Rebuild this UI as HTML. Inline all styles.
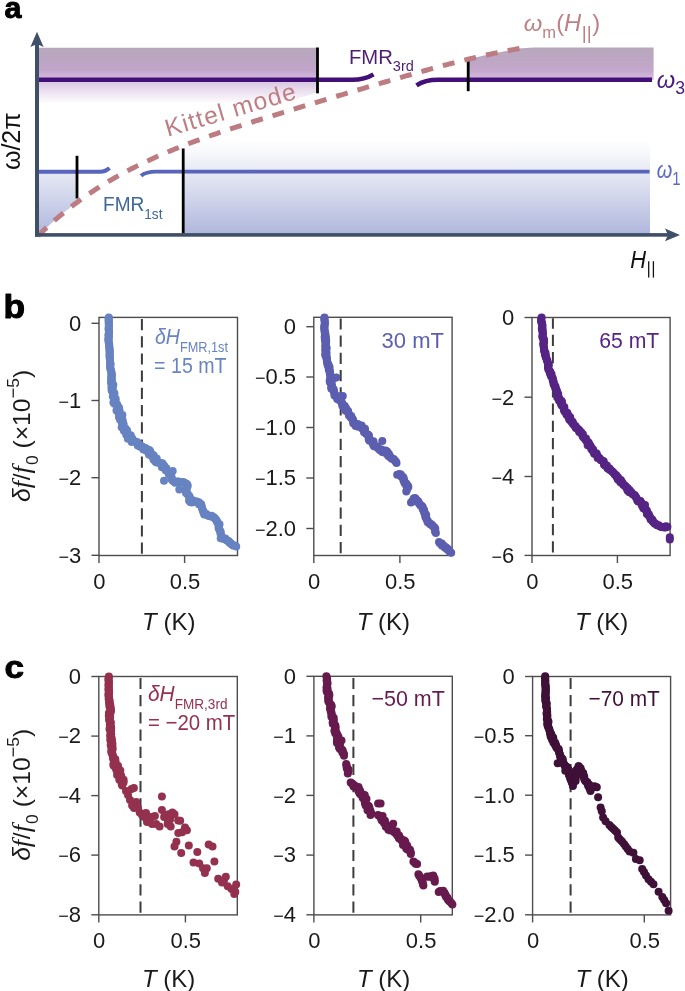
<!DOCTYPE html>
<html><head><meta charset="utf-8"><title>Figure</title>
<style>
html,body{margin:0;padding:0;background:#fff;}
body{width:685px;height:991px;overflow:hidden;}
svg{display:block;will-change:transform;}
text{font-family:"Liberation Sans",sans-serif;}
</style></head><body>
<svg width="685" height="991" viewBox="0 0 685 991">
<defs>
<linearGradient id="gPurL" x1="0" y1="47.3" x2="0" y2="104" gradientUnits="userSpaceOnUse">
 <stop offset="0" stop-color="#b8a8bc"/>
 <stop offset="0.224" stop-color="#bba5c2"/>
 <stop offset="0.40" stop-color="#c3a5cc"/>
 <stop offset="0.506" stop-color="#cdb3d6"/>
 <stop offset="0.63" stop-color="#dccbe4"/>
 <stop offset="0.788" stop-color="#ece2f0"/>
 <stop offset="1" stop-color="#ffffff"/>
</linearGradient>
<linearGradient id="gPurR" x1="0" y1="47.3" x2="0" y2="79" gradientUnits="userSpaceOnUse">
 <stop offset="0" stop-color="#b8a8bc"/>
 <stop offset="0.45" stop-color="#bea6c4"/>
 <stop offset="0.75" stop-color="#c6a8cf"/>
 <stop offset="1" stop-color="#d3bcda"/>
</linearGradient>
<linearGradient id="gBlue" x1="0" y1="140" x2="0" y2="234" gradientUnits="userSpaceOnUse">
 <stop offset="0" stop-color="#ffffff"/>
 <stop offset="0.15" stop-color="#f6f7fb"/>
 <stop offset="0.33" stop-color="#e7e9f4"/>
 <stop offset="0.6" stop-color="#d2d6ec"/>
 <stop offset="1" stop-color="#afb7dc"/>
</linearGradient>
</defs>

<text transform="translate(4.60,17.93) scale(0.9200,0.9150)" font-size="33" font-weight="bold" fill="#000" stroke="#000" stroke-width="1.1" stroke-linejoin="round">a</text>
<path d="M39,47.8 L317.5,47.8 L317.5,92.5 L312.8,93.9 L308.1,95.4 L303.3,96.8 L298.6,98.2 L293.9,99.7 L289.2,101.1 L284.5,102.5 L279.7,104.0 L275.0,104.0 L270.3,104.0 L265.6,104.0 L260.9,104.0 L256.1,104.0 L251.4,104.0 L246.7,104.0 L242.0,104.0 L237.3,104.0 L232.5,104.0 L227.8,104.0 L223.1,104.0 L218.4,104.0 L213.7,104.0 L208.9,104.0 L204.2,104.0 L199.5,104.0 L194.8,104.0 L190.1,104.0 L185.3,104.0 L180.6,104.0 L175.9,104.0 L171.2,104.0 L166.4,104.0 L161.7,104.0 L157.0,104.0 L152.3,104.0 L147.6,104.0 L142.8,104.0 L138.1,104.0 L133.4,104.0 L128.7,104.0 L124.0,104.0 L119.2,104.0 L114.5,104.0 L109.8,104.0 L105.1,104.0 L100.4,104.0 L95.6,104.0 L90.9,104.0 L86.2,104.0 L81.5,104.0 L76.8,104.0 L72.0,104.0 L67.3,104.0 L62.6,104.0 L57.9,104.0 L53.2,104.0 L48.4,104.0 L43.7,104.0 L39.0,104.0 Z" fill="url(#gPurL)"/>
<path d="M468.0,59.3 L468.0,59.3 L470.7,58.6 L473.5,58.0 L476.2,57.3 L478.9,56.7 L481.7,56.1 L484.4,55.4 L487.2,54.8 L489.9,54.2 L492.6,53.7 L495.4,53.1 L498.1,52.5 L500.8,52.0 L503.6,51.4 L506.3,50.9 L509.1,50.4 L511.8,49.9 L514.5,49.4 L517.3,48.9 L520.0,48.4 L521.0,48.3 L523.0,48.2 L525.0,48.0 L527.0,47.9 L529.0,47.8 L531.0,47.7 L533.0,47.6 L535.0,47.6 L537.0,47.6 L653.6,47.6 L653.6,80.0 L468.0,80.0 Z" fill="url(#gPurR)"/>
<path d="M183.0,140.0 L650.0,140.0 L650.0,233.5 L183.0,233.5 Z" fill="url(#gBlue)"/>
<path d="M39.0,171.7 L77.0,171.7 L77.0,202.4 L75.7,203.3 L74.4,204.3 L73.1,205.3 L71.8,206.3 L70.4,207.3 L69.1,208.4 L67.8,209.4 L66.5,210.5 L65.2,211.5 L63.9,212.6 L62.6,213.6 L61.3,214.7 L60.0,215.8 L58.7,216.9 L57.3,218.0 L56.0,219.2 L54.7,220.3 L53.4,221.5 L52.1,222.6 L50.8,223.8 L49.5,225.0 L48.2,226.2 L46.9,227.4 L45.6,228.6 L44.2,229.8 L42.9,231.0 L41.6,232.3 L40.3,233.6 L39.0,234.8 Z" fill="url(#gBlue)"/>
<path d="M39,79.7 L352,79.7 C362,79.7 368,77.7 373.5,74.3" fill="none" stroke="#430f78" stroke-width="4.5"/>
<path d="M416.5,85.3 C422,81.7 428,79.7 438,79.7 L652,79.7" fill="none" stroke="#430f78" stroke-width="4.5"/>
<path d="M39,171.7 L100,171.7 C104,171.7 107,170.5 109.5,168" fill="none" stroke="#5965ba" stroke-width="3.9"/>
<path d="M141,175.8 C145,172.5 149,171.6 156,171.6 L649.6,171.6" fill="none" stroke="#5965ba" stroke-width="3.9"/>
<g stroke="#000" stroke-width="2.8">
<line x1="317.5" y1="47.5" x2="317.5" y2="93.3"/>
<line x1="468.2" y1="61" x2="468.2" y2="91.2"/>
<line x1="77" y1="155.8" x2="77" y2="198.5"/>
<line x1="183.2" y1="148.5" x2="183.2" y2="233.5"/>
</g>
<path d="M38.00,235.80 L39.61,234.23 L41.22,232.68 L42.83,231.14 L44.44,229.62 L46.05,228.11 L47.66,226.63 L49.27,225.16 L50.88,223.71 L52.49,222.27 L54.10,220.85 L55.71,219.45 L57.32,218.07 L58.93,216.70 L60.55,215.34 L62.16,214.00 L63.77,212.68 L65.38,211.37 L66.99,210.08 L68.60,208.80 L70.21,207.54 L71.82,206.29 L73.43,205.05 L75.04,203.83 L76.65,202.63 L78.26,201.44 L79.87,200.26 L81.48,199.09 L83.09,197.94 L84.70,196.80 L86.31,195.68 L87.92,194.57 L89.53,193.47 L91.14,192.38 L92.75,191.31 L94.36,190.25 L95.97,189.20 L97.58,188.16 L99.19,187.13 L100.80,186.12 L102.41,185.11 L104.03,184.12 L105.64,183.14 L107.25,182.17 L108.86,181.21 L110.47,180.26 L112.08,179.32 L113.69,178.40 L115.30,177.48 L116.91,176.57 L118.52,175.67 L120.13,174.78 L121.74,173.90 L123.35,173.03 L124.96,172.17 L126.57,171.32 L128.18,170.47 L129.79,169.64 L131.40,168.81 L133.01,167.99 L134.62,167.18 L136.23,166.38 L137.84,165.58 L139.45,164.79 L141.06,164.01 L142.67,163.24 L144.28,162.47 L145.89,161.71 L147.51,160.96 L149.12,160.21 L150.73,159.47 L152.34,158.74 L153.95,158.01 L155.56,157.29 L157.17,156.57 L158.78,155.86 L160.39,155.16 L162.00,154.46 L163.61,153.76 L165.22,153.08 L166.83,152.39 L168.44,151.72 L170.05,151.05 L171.66,150.38 L173.27,149.72 L174.88,149.06 L176.49,148.41 L178.10,147.76 L179.71,147.12 L181.32,146.49 L182.93,145.85 L184.54,145.23 L186.15,144.60 L187.76,143.99 L189.37,143.37 L190.98,142.76 L192.60,142.16 L194.21,141.56 L195.82,140.96 L197.43,140.36 L199.04,139.78 L200.65,139.19 L202.26,138.61 L203.87,138.03 L205.48,137.45 L207.09,136.88 L208.70,136.32 L210.31,135.75 L211.92,135.19 L213.53,134.63 L215.14,134.08 L216.75,133.53 L218.36,132.98 L219.97,132.43 L221.58,131.89 L223.19,131.35 L224.80,130.81 L226.41,130.28 L228.02,129.74 L229.63,129.21 L231.24,128.69 L232.85,128.16 L234.46,127.64 L236.08,127.11 L237.69,126.60 L239.30,126.08 L240.91,125.56 L242.52,125.05 L244.13,124.54 L245.74,124.03 L247.35,123.52 L248.96,123.01 L250.57,122.50 L252.18,122.00 L253.79,121.50 L255.40,120.99 L257.01,120.49 L258.62,119.99 L260.23,119.49 L261.84,118.99 L263.45,118.50 L265.06,118.00 L266.67,117.50 L268.28,117.01 L269.89,116.51 L271.50,116.02 L273.11,115.52 L274.72,115.03 L276.33,114.53 L277.94,114.04 L279.56,113.55 L281.17,113.05 L282.78,112.56 L284.39,112.07 L286.00,111.57 L287.61,111.08 L289.22,110.59 L290.83,110.10 L292.44,109.61 L294.05,109.12 L295.66,108.63 L297.27,108.14 L298.88,107.65 L300.49,107.16 L302.10,106.67 L303.71,106.18 L305.32,105.69 L306.93,105.20 L308.54,104.71 L310.15,104.23 L311.76,103.74 L313.37,103.25 L314.98,102.76 L316.59,102.28 L318.20,101.79 L319.81,101.31 L321.42,100.82 L323.04,100.34 L324.65,99.85 L326.26,99.37 L327.87,98.89 L329.48,98.40 L331.09,97.92 L332.70,97.44 L334.31,96.96 L335.92,96.47 L337.53,95.99 L339.14,95.51 L340.75,95.03 L342.36,94.55 L343.97,94.07 L345.58,93.59 L347.19,93.11 L348.80,92.63 L350.41,92.16 L352.02,91.68 L353.63,91.20 L355.24,90.73 L356.85,90.25 L358.46,89.77 L360.07,89.30 L361.68,88.82 L363.29,88.35 L364.90,87.88 L366.52,87.40 L368.13,86.93 L369.74,86.46 L371.35,85.98 L372.96,85.51 L374.57,85.04 L376.18,84.57 L377.79,84.10 L379.40,83.63 L381.01,83.16 L382.62,82.69 L384.23,82.23 L385.84,81.76 L387.45,81.29 L389.06,80.82 L390.67,80.36 L392.28,79.89 L393.89,79.43 L395.50,78.96 L397.11,78.50 L398.72,78.03 L400.33,77.57 L401.94,77.11 L403.55,76.65 L405.16,76.19 L406.77,75.72 L408.38,75.27 L409.99,74.81 L411.61,74.35 L413.22,73.89 L414.83,73.43 L416.44,72.98 L418.05,72.53 L419.66,72.07 L421.27,71.62 L422.88,71.17 L424.49,70.72 L426.10,70.27 L427.71,69.83 L429.32,69.38 L430.93,68.94 L432.54,68.50 L434.15,68.06 L435.76,67.62 L437.37,67.18 L438.98,66.75 L440.59,66.31 L442.20,65.88 L443.81,65.45 L445.42,65.03 L447.03,64.60 L448.64,64.18 L450.25,63.76 L451.86,63.34 L453.47,62.92 L455.09,62.51 L456.70,62.10 L458.31,61.69 L459.92,61.28 L461.53,60.88 L463.14,60.48 L464.75,60.08 L466.36,59.68 L467.97,59.29 L469.58,58.90 L471.19,58.51 L472.80,58.13 L474.41,57.74 L476.02,57.37 L477.63,56.99 L479.24,56.62 L480.85,56.25 L482.46,55.88 L484.07,55.52 L485.68,55.16 L487.29,54.81 L488.90,54.46 L490.51,54.11 L492.12,53.76 L493.73,53.42 L495.34,53.09 L496.95,52.75 L498.57,52.42 L500.18,52.10 L501.79,51.77 L503.40,51.46 L505.01,51.14 L506.62,50.83 L508.23,50.53 L509.84,50.23 L511.45,49.93 L513.06,49.64 L514.67,49.35 L516.28,49.06 L517.89,48.79 L519.50,48.51" fill="none" stroke="#bd7b82" stroke-width="5" stroke-dasharray="11.986 10.210"/>
<g fill="#3f4f68">
<rect x="35" y="42" width="4" height="194.7"/>
<rect x="35" y="233.1" width="635" height="3.6"/>
<path d="M37,31.8 L43.6,47 L37,44 L30.4,47 Z"/>
<path d="M680,234.9 L665,241.2 L668,234.9 L665,228.6 Z"/>
</g>
<text transform="translate(19.6,141.3) rotate(-90)" text-anchor="middle" font-size="25" fill="#111">&#969;/2&#960;</text>
<text transform="translate(167.8,136.8) rotate(-16.4)" font-size="24.5" fill="#bd7d83" letter-spacing="1.25">Kittel mode</text>
<text transform="translate(348.96,63.50) scale(1.0393,1)" font-size="19.5" fill="#4d1f73">FMR<tspan font-size="14" dy="7.2">3rd</tspan></text>
<text transform="translate(103.02,210.80) scale(0.9767,1)" font-size="19.5" fill="#3e6898">FMR<tspan font-size="14" dy="7.9">1st</tspan></text>
<text transform="translate(523.80,30.60) scale(1.0356,1)" font-size="23" fill="#bd8084"><tspan font-style="italic">&#969;</tspan><tspan font-size="16" dy="7.6">m</tspan><tspan dy="-7.6">(</tspan><tspan font-style="italic">H</tspan><tspan font-size="18.5" dy="8" dx="0.5">||</tspan><tspan dy="-8" dx="0.5">)</tspan></text>
<text transform="translate(656.80,87.80) scale(1.0071,1)" font-size="23.5" fill="#4a1a80"><tspan font-style="italic">&#969;</tspan><tspan font-size="17.5" dy="6.6">3</tspan></text>
<text transform="translate(656.80,177.60) scale(0.8500,1)" font-size="23.5" fill="#5a6abf"><tspan font-style="italic">&#969;</tspan><tspan font-size="17.5" dy="7">1</tspan></text>
<text transform="translate(630.20,267.60) scale(0.8944,1)" font-size="24.5" fill="#111"><tspan font-style="italic">H</tspan></text>
<g stroke="#111" stroke-width="1.3"><line x1="648.7" y1="261.2" x2="648.7" y2="277.6"/><line x1="653.4" y1="261.2" x2="653.4" y2="277.6"/></g>
<text transform="translate(3.42,317.80) scale(0.9810,0.9000)" font-size="36" font-weight="bold" fill="#000" stroke="#000" stroke-width="1.1" stroke-linejoin="round">b</text>
<g stroke="#4d4d4d" stroke-width="1.4" fill="none">
<rect x="99" y="317.4" width="138.5" height="238.1"/>
<line x1="91.5" y1="323.3" x2="99" y2="323.3"/>
<line x1="91.5" y1="400.5" x2="99" y2="400.5"/>
<line x1="91.5" y1="477.7" x2="99" y2="477.7"/>
<line x1="91.5" y1="555.3" x2="99" y2="555.3"/>
<line x1="99" y1="555.5" x2="99" y2="563"/>
<line x1="184.6" y1="555.5" x2="184.6" y2="563"/>
</g>
<line x1="141.9" y1="318.1" x2="141.9" y2="555.5" stroke="#3c3c3c" stroke-width="2" stroke-dasharray="11.2 6" stroke-dashoffset="-0.90"/>
<g font-size="22" fill="#1a1a1a" text-anchor="end">
<text x="81.2" y="330.6">0</text>
<text x="81.2" y="407.8"><tspan font-size="18">&#8722;</tspan>1</text>
<text x="81.2" y="485"><tspan font-size="18">&#8722;</tspan>2</text>
<text x="81.2" y="562.6"><tspan font-size="18">&#8722;</tspan>3</text>
</g>
<g font-size="22" fill="#1a1a1a" text-anchor="middle">
<text x="99.4" y="588.9">0</text>
<text x="185" y="588.9">0.5</text>
</g>
<text x="168.75" y="629.6" font-size="24" fill="#1a1a1a" text-anchor="middle"><tspan font-style="italic">T</tspan> (K)</text>
<g fill="#6783c1">
<circle cx="108.8" cy="317.5" r="4.0"/><circle cx="108.8" cy="318.8" r="4.0"/><circle cx="108.5" cy="320.1" r="4.0"/><circle cx="108.8" cy="321.4" r="4.0"/><circle cx="108.8" cy="322.7" r="4.0"/><circle cx="108.7" cy="324.0" r="4.0"/><circle cx="109.0" cy="325.3" r="4.0"/><circle cx="108.8" cy="326.6" r="4.0"/><circle cx="108.7" cy="327.9" r="4.0"/><circle cx="108.6" cy="329.2" r="4.0"/><circle cx="109.0" cy="330.6" r="4.0"/><circle cx="108.9" cy="331.9" r="4.0"/><circle cx="109.0" cy="333.2" r="4.0"/><circle cx="108.5" cy="334.5" r="4.0"/><circle cx="108.6" cy="335.8" r="4.0"/><circle cx="109.0" cy="337.1" r="4.0"/><circle cx="108.4" cy="338.4" r="4.0"/><circle cx="108.4" cy="339.7" r="4.0"/><circle cx="108.6" cy="341.0" r="4.0"/><circle cx="108.7" cy="342.4" r="4.0"/><circle cx="109.1" cy="343.7" r="4.0"/><circle cx="109.3" cy="345.1" r="4.0"/><circle cx="109.1" cy="346.4" r="4.0"/><circle cx="109.5" cy="347.8" r="4.0"/><circle cx="109.5" cy="349.1" r="4.0"/><circle cx="109.5" cy="350.5" r="4.0"/><circle cx="109.8" cy="351.8" r="4.0"/><circle cx="109.6" cy="353.2" r="4.0"/><circle cx="109.7" cy="354.6" r="4.0"/><circle cx="109.5" cy="355.9" r="4.0"/><circle cx="109.8" cy="357.3" r="4.0"/><circle cx="109.8" cy="358.7" r="4.0"/><circle cx="110.0" cy="360.0" r="4.0"/><circle cx="110.0" cy="361.4" r="4.0"/><circle cx="110.3" cy="362.9" r="4.0"/><circle cx="110.6" cy="364.3" r="4.0"/><circle cx="110.1" cy="365.8" r="4.0"/><circle cx="110.2" cy="367.2" r="4.0"/><circle cx="110.4" cy="368.6" r="4.0"/><circle cx="110.7" cy="370.0" r="4.0"/><circle cx="111.2" cy="371.3" r="4.0"/><circle cx="111.5" cy="372.7" r="4.0"/><circle cx="111.5" cy="374.0" r="4.0"/><circle cx="112.0" cy="375.3" r="4.0"/><circle cx="111.1" cy="376.8" r="4.0"/><circle cx="111.8" cy="378.1" r="4.0"/><circle cx="111.1" cy="379.5" r="4.0"/><circle cx="112.0" cy="380.8" r="4.0"/><circle cx="111.0" cy="382.2" r="4.0"/><circle cx="111.3" cy="383.5" r="4.0"/><circle cx="113.3" cy="384.7" r="4.0"/><circle cx="112.9" cy="386.1" r="4.0"/><circle cx="111.4" cy="387.6" r="4.0"/><circle cx="112.7" cy="389.0" r="4.0"/><circle cx="111.6" cy="390.6" r="4.0"/><circle cx="113.3" cy="391.9" r="4.0"/><circle cx="114.4" cy="393.2" r="4.0"/><circle cx="113.0" cy="394.9" r="4.0"/><circle cx="112.8" cy="396.5" r="4.0"/><circle cx="114.7" cy="397.6" r="4.0"/><circle cx="115.7" cy="398.9" r="4.0"/><circle cx="115.3" cy="400.5" r="4.0"/><circle cx="113.4" cy="402.5" r="4.0"/><circle cx="114.5" cy="403.8" r="4.0"/><circle cx="117.2" cy="404.4" r="4.0"/><circle cx="117.3" cy="405.9" r="4.0"/><circle cx="118.4" cy="406.9" r="4.0"/><circle cx="119.1" cy="408.1" r="4.0"/><circle cx="116.5" cy="410.5" r="4.0"/><circle cx="119.6" cy="410.7" r="4.0"/><circle cx="118.4" cy="412.6" r="4.0"/><circle cx="119.5" cy="413.7" r="4.0"/><circle cx="121.0" cy="414.9" r="4.0"/><circle cx="118.9" cy="417.0" r="4.0"/><circle cx="122.0" cy="417.7" r="4.0"/><circle cx="120.1" cy="419.8" r="4.0"/><circle cx="122.7" cy="420.6" r="4.0"/><circle cx="121.8" cy="422.4" r="4.0"/><circle cx="123.2" cy="423.2" r="4.0"/><circle cx="123.6" cy="424.6" r="4.0"/><circle cx="121.7" cy="427.2" r="4.0"/><circle cx="122.9" cy="428.1" r="4.0"/><circle cx="125.5" cy="428.4" r="4.0"/><circle cx="123.9" cy="430.8" r="4.0"/><circle cx="127.1" cy="430.6" r="4.0"/><circle cx="127.2" cy="432.3" r="4.0"/><circle cx="126.2" cy="434.7" r="4.0"/><circle cx="127.8" cy="435.4" r="4.0"/><circle cx="130.7" cy="435.3" r="4.0"/><circle cx="127.9" cy="438.8" r="4.0"/><circle cx="131.9" cy="438.0" r="4.0"/><circle cx="132.3" cy="439.1" r="4.0"/><circle cx="131.7" cy="441.9" r="4.0"/><circle cx="134.1" cy="441.1" r="4.0"/><circle cx="135.3" cy="441.8" r="4.0"/><circle cx="137.0" cy="442.0" r="4.0"/><circle cx="138.0" cy="442.9" r="4.0"/><circle cx="137.7" cy="445.4" r="4.0"/><circle cx="139.3" cy="445.0" r="4.0"/><circle cx="140.1" cy="446.8" r="4.0"/><circle cx="141.7" cy="446.3" r="4.0"/><circle cx="142.8" cy="447.1" r="4.0"/><circle cx="143.4" cy="449.4" r="4.0"/><circle cx="145.3" cy="448.0" r="4.0"/><circle cx="146.3" cy="448.7" r="4.0"/><circle cx="146.2" cy="450.6" r="4.0"/><circle cx="149.3" cy="450.1" r="4.0"/><circle cx="150.3" cy="451.2" r="4.0"/><circle cx="148.8" cy="454.2" r="4.0"/><circle cx="150.0" cy="455.1" r="4.0"/><circle cx="152.6" cy="454.8" r="4.0"/><circle cx="153.8" cy="455.6" r="4.0"/><circle cx="153.2" cy="458.1" r="4.0"/><circle cx="153.6" cy="459.7" r="4.0"/><circle cx="156.7" cy="458.6" r="4.0"/><circle cx="155.5" cy="461.7" r="4.0"/><circle cx="156.7" cy="462.4" r="4.0"/><circle cx="158.5" cy="462.6" r="4.0"/><circle cx="159.9" cy="463.1" r="4.0"/><circle cx="161.7" cy="463.0" r="4.0"/><circle cx="162.8" cy="463.8" r="4.0"/><circle cx="161.9" cy="467.2" r="4.0"/><circle cx="164.4" cy="466.1" r="4.0"/><circle cx="164.5" cy="467.9" r="4.0"/><circle cx="166.3" cy="468.3" r="4.0"/><circle cx="165.7" cy="470.3" r="4.0"/><circle cx="167.0" cy="471.0" r="4.0"/><circle cx="168.4" cy="471.7" r="4.0"/><circle cx="169.3" cy="472.6" r="4.0"/><circle cx="168.9" cy="474.5" r="4.0"/><circle cx="171.0" cy="475.0" r="4.0"/><circle cx="171.4" cy="476.4" r="4.0"/><circle cx="171.5" cy="478.1" r="4.0"/><circle cx="171.7" cy="479.6" r="4.0"/><circle cx="172.9" cy="480.7" r="4.0"/><circle cx="173.9" cy="481.4" r="4.0"/><circle cx="175.2" cy="482.8" r="4.0"/><circle cx="176.8" cy="481.6" r="4.0"/><circle cx="178.3" cy="481.4" r="4.0"/><circle cx="179.7" cy="482.1" r="4.0"/><circle cx="181.1" cy="482.6" r="4.0"/><circle cx="182.8" cy="482.0" r="4.0"/><circle cx="184.2" cy="482.6" r="4.0"/><circle cx="185.6" cy="483.4" r="4.0"/><circle cx="186.9" cy="484.0" r="4.0"/><circle cx="187.7" cy="485.5" r="4.0"/><circle cx="187.3" cy="487.1" r="4.0"/><circle cx="186.2" cy="488.6" r="4.0"/><circle cx="186.0" cy="490.2" r="4.0"/><circle cx="186.7" cy="491.8" r="4.0"/><circle cx="187.1" cy="493.2" r="4.0"/><circle cx="187.8" cy="494.6" r="4.0"/><circle cx="189.1" cy="495.7" r="4.0"/><circle cx="189.7" cy="497.0" r="4.0"/><circle cx="190.2" cy="498.4" r="4.0"/><circle cx="189.0" cy="500.4" r="4.0"/><circle cx="190.2" cy="501.9" r="4.0"/><circle cx="191.7" cy="502.4" r="4.0"/><circle cx="193.3" cy="500.5" r="4.0"/><circle cx="194.8" cy="501.8" r="4.0"/><circle cx="196.4" cy="501.5" r="4.0"/><circle cx="197.5" cy="501.8" r="4.0"/><circle cx="199.1" cy="502.4" r="4.0"/><circle cx="198.9" cy="504.3" r="4.0"/><circle cx="201.2" cy="504.3" r="4.0"/><circle cx="201.3" cy="506.0" r="4.0"/><circle cx="201.9" cy="507.1" r="4.0"/><circle cx="202.0" cy="508.6" r="4.0"/><circle cx="202.7" cy="509.8" r="4.0"/><circle cx="203.2" cy="511.1" r="4.0"/><circle cx="203.5" cy="512.5" r="4.0"/><circle cx="204.2" cy="514.4" r="4.0"/><circle cx="206.0" cy="513.8" r="4.0"/><circle cx="207.2" cy="514.9" r="4.0"/><circle cx="208.4" cy="515.8" r="4.0"/><circle cx="209.9" cy="516.2" r="4.0"/><circle cx="211.6" cy="515.8" r="4.0"/><circle cx="212.7" cy="517.0" r="4.0"/><circle cx="213.7" cy="517.3" r="4.0"/><circle cx="214.9" cy="518.2" r="4.0"/><circle cx="215.6" cy="519.6" r="4.0"/><circle cx="216.7" cy="520.6" r="4.0"/><circle cx="217.1" cy="522.0" r="4.0"/><circle cx="217.8" cy="523.3" r="4.0"/><circle cx="219.5" cy="524.3" r="4.0"/><circle cx="218.8" cy="526.0" r="4.0"/><circle cx="218.5" cy="527.7" r="4.0"/><circle cx="219.1" cy="529.1" r="4.0"/><circle cx="219.8" cy="530.5" r="4.0"/><circle cx="220.7" cy="531.8" r="4.0"/><circle cx="220.5" cy="533.3" r="4.0"/><circle cx="220.8" cy="534.8" r="4.0"/><circle cx="221.0" cy="536.2" r="4.0"/><circle cx="220.7" cy="538.2" r="4.0"/><circle cx="222.5" cy="537.6" r="4.0"/><circle cx="223.5" cy="539.1" r="4.0"/><circle cx="225.3" cy="538.6" r="4.0"/><circle cx="226.3" cy="539.9" r="4.0"/><circle cx="227.5" cy="540.7" r="4.0"/><circle cx="228.9" cy="541.2" r="4.0"/><circle cx="229.5" cy="542.7" r="4.0"/><circle cx="230.8" cy="543.3" r="4.0"/><circle cx="231.8" cy="544.4" r="4.0"/><circle cx="233.1" cy="545.5" r="4.0"/><circle cx="234.9" cy="545.4" r="4.0"/><circle cx="236.2" cy="546.4" r="4.0"/><circle cx="172.7" cy="470.9" r="4.0"/><circle cx="164.0" cy="480.7" r="4.0"/><circle cx="179.3" cy="489.5" r="4.0"/><circle cx="122.4" cy="415.0" r="4.0"/><circle cx="186.0" cy="493.0" r="4.0"/>
</g>
<text transform="translate(155.00,343.70) scale(0.8892,1)" font-size="22" fill="#6783c1"><tspan font-style="italic">&#948;H</tspan><tspan font-size="14.3" dy="8.1">FMR,1st</tspan></text>
<text transform="translate(154.11,372.90) scale(0.8913,1)" font-size="22" fill="#6783c1">= 15 mT</text>
<g stroke="#4d4d4d" stroke-width="1.4" fill="none">
<rect x="313.8" y="317.3" width="138.3" height="238.2"/>
<line x1="306.3" y1="326.7" x2="313.8" y2="326.7"/>
<line x1="306.3" y1="377" x2="313.8" y2="377"/>
<line x1="306.3" y1="427.5" x2="313.8" y2="427.5"/>
<line x1="306.3" y1="478" x2="313.8" y2="478"/>
<line x1="306.3" y1="528.5" x2="313.8" y2="528.5"/>
<line x1="313.8" y1="555.5" x2="313.8" y2="563"/>
<line x1="399.9" y1="555.5" x2="399.9" y2="563"/>
</g>
<line x1="340.7" y1="318" x2="340.7" y2="555.5" stroke="#3c3c3c" stroke-width="2" stroke-dasharray="11.2 6" stroke-dashoffset="-0.40"/>
<g font-size="22" fill="#1a1a1a" text-anchor="end">
<text x="296" y="334">0</text>
<text x="296" y="384.3"><tspan font-size="18">&#8722;</tspan>0.5</text>
<text x="296" y="434.8"><tspan font-size="18">&#8722;</tspan>1.0</text>
<text x="296" y="485.3"><tspan font-size="18">&#8722;</tspan>1.5</text>
<text x="296" y="535.8"><tspan font-size="18">&#8722;</tspan>2.0</text>
</g>
<g font-size="22" fill="#1a1a1a" text-anchor="middle">
<text x="314.2" y="588.9">0</text>
<text x="400.3" y="588.9">0.5</text>
</g>
<text x="383.45" y="629.6" font-size="24" fill="#1a1a1a" text-anchor="middle"><tspan font-style="italic">T</tspan> (K)</text>
<g fill="#5c5fb0">
<circle cx="324.5" cy="317.5" r="4.0"/><circle cx="324.4" cy="318.8" r="4.0"/><circle cx="324.4" cy="320.1" r="4.0"/><circle cx="324.8" cy="321.4" r="4.0"/><circle cx="324.9" cy="322.8" r="4.0"/><circle cx="324.6" cy="324.1" r="4.0"/><circle cx="324.7" cy="325.4" r="4.0"/><circle cx="324.2" cy="326.7" r="4.0"/><circle cx="324.3" cy="328.0" r="4.0"/><circle cx="324.5" cy="329.3" r="4.0"/><circle cx="324.6" cy="330.6" r="4.0"/><circle cx="324.6" cy="331.9" r="4.0"/><circle cx="325.3" cy="333.2" r="4.0"/><circle cx="325.1" cy="334.5" r="4.0"/><circle cx="325.6" cy="335.8" r="4.0"/><circle cx="324.6" cy="337.1" r="4.0"/><circle cx="326.0" cy="338.3" r="4.0"/><circle cx="324.9" cy="339.7" r="4.0"/><circle cx="326.2" cy="341.0" r="4.0"/><circle cx="325.3" cy="342.3" r="4.0"/><circle cx="325.9" cy="343.6" r="4.0"/><circle cx="325.8" cy="344.9" r="4.0"/><circle cx="325.2" cy="346.2" r="4.0"/><circle cx="326.5" cy="347.5" r="4.0"/><circle cx="326.5" cy="348.8" r="4.0"/><circle cx="325.2" cy="350.1" r="4.0"/><circle cx="325.9" cy="351.4" r="4.0"/><circle cx="326.6" cy="352.7" r="4.0"/><circle cx="325.2" cy="354.1" r="4.0"/><circle cx="325.4" cy="355.5" r="4.0"/><circle cx="326.8" cy="357.0" r="4.0"/><circle cx="326.4" cy="358.5" r="4.0"/><circle cx="327.0" cy="359.8" r="4.0"/><circle cx="327.1" cy="361.3" r="4.0"/><circle cx="327.0" cy="362.8" r="4.0"/><circle cx="328.2" cy="364.0" r="4.0"/><circle cx="327.7" cy="365.6" r="4.0"/><circle cx="329.3" cy="366.6" r="4.0"/><circle cx="329.5" cy="368.1" r="4.0"/><circle cx="328.7" cy="369.8" r="4.0"/><circle cx="329.9" cy="371.0" r="4.0"/><circle cx="330.0" cy="372.3" r="4.0"/><circle cx="329.8" cy="373.7" r="4.0"/><circle cx="330.3" cy="375.0" r="4.0"/><circle cx="330.6" cy="376.4" r="4.0"/><circle cx="331.7" cy="377.6" r="4.0"/><circle cx="330.2" cy="379.1" r="4.0"/><circle cx="329.7" cy="380.6" r="4.0"/><circle cx="329.8" cy="381.9" r="4.0"/><circle cx="330.8" cy="383.2" r="4.0"/><circle cx="331.8" cy="384.4" r="4.0"/><circle cx="331.9" cy="385.8" r="4.0"/><circle cx="331.2" cy="387.2" r="4.0"/><circle cx="331.4" cy="388.7" r="4.0"/><circle cx="333.6" cy="389.3" r="4.0"/><circle cx="333.9" cy="390.7" r="4.0"/><circle cx="334.2" cy="392.2" r="4.0"/><circle cx="334.5" cy="393.7" r="4.0"/><circle cx="334.5" cy="395.6" r="4.0"/><circle cx="336.1" cy="396.1" r="4.0"/><circle cx="338.1" cy="396.3" r="4.0"/><circle cx="337.2" cy="398.9" r="4.0"/><circle cx="339.0" cy="399.3" r="4.0"/><circle cx="339.7" cy="400.5" r="4.0"/><circle cx="341.4" cy="401.2" r="4.0"/><circle cx="341.7" cy="402.7" r="4.0"/><circle cx="342.5" cy="403.9" r="4.0"/><circle cx="342.3" cy="405.8" r="4.0"/><circle cx="344.8" cy="406.0" r="4.0"/><circle cx="344.4" cy="408.0" r="4.0"/><circle cx="346.2" cy="408.6" r="4.0"/><circle cx="345.6" cy="410.7" r="4.0"/><circle cx="348.1" cy="410.9" r="4.0"/><circle cx="348.2" cy="412.5" r="4.0"/><circle cx="348.9" cy="413.9" r="4.0"/><circle cx="348.9" cy="415.6" r="4.0"/><circle cx="351.2" cy="415.9" r="4.0"/><circle cx="350.9" cy="417.8" r="4.0"/><circle cx="352.3" cy="418.6" r="4.0"/><circle cx="353.0" cy="419.8" r="4.0"/><circle cx="353.4" cy="421.3" r="4.0"/><circle cx="353.2" cy="423.3" r="4.0"/><circle cx="355.2" cy="423.5" r="4.0"/><circle cx="355.6" cy="425.9" r="4.0"/><circle cx="357.6" cy="424.1" r="4.0"/><circle cx="358.2" cy="426.7" r="4.0"/><circle cx="360.1" cy="425.5" r="4.0"/><circle cx="361.6" cy="425.5" r="4.0"/><circle cx="361.9" cy="427.1" r="4.0"/><circle cx="362.0" cy="428.5" r="4.0"/><circle cx="365.0" cy="428.8" r="4.0"/><circle cx="364.8" cy="430.3" r="4.0"/><circle cx="364.0" cy="432.2" r="4.0"/><circle cx="365.7" cy="432.9" r="4.0"/><circle cx="366.3" cy="433.9" r="4.0"/><circle cx="367.9" cy="434.5" r="4.0"/><circle cx="369.0" cy="435.6" r="4.0"/><circle cx="368.8" cy="437.9" r="4.0"/><circle cx="368.7" cy="439.6" r="4.0"/><circle cx="369.5" cy="440.8" r="4.0"/><circle cx="371.4" cy="441.0" r="4.0"/><circle cx="373.4" cy="441.3" r="4.0"/><circle cx="373.5" cy="442.9" r="4.0"/><circle cx="373.1" cy="444.8" r="4.0"/><circle cx="374.0" cy="446.2" r="4.0"/><circle cx="375.4" cy="446.6" r="4.0"/><circle cx="377.3" cy="446.5" r="4.0"/><circle cx="377.8" cy="448.1" r="4.0"/><circle cx="379.0" cy="448.9" r="4.0"/><circle cx="380.0" cy="450.2" r="4.0"/><circle cx="381.6" cy="449.6" r="4.0"/><circle cx="382.3" cy="451.9" r="4.0"/><circle cx="383.6" cy="452.2" r="4.0"/><circle cx="385.6" cy="450.6" r="4.0"/><circle cx="387.1" cy="451.6" r="4.0"/><circle cx="386.6" cy="453.8" r="4.0"/><circle cx="388.8" cy="453.8" r="4.0"/><circle cx="388.3" cy="456.0" r="4.0"/><circle cx="390.1" cy="456.3" r="4.0"/><circle cx="390.7" cy="457.7" r="4.0"/><circle cx="391.8" cy="458.8" r="4.0"/><circle cx="393.7" cy="459.1" r="4.0"/><circle cx="394.6" cy="460.4" r="4.0"/><circle cx="395.8" cy="461.4" r="4.0"/><circle cx="396.5" cy="462.9" r="4.0"/><circle cx="397.2" cy="474.7" r="4.0"/><circle cx="399.4" cy="474.0" r="4.0"/><circle cx="400.9" cy="474.4" r="4.0"/><circle cx="401.1" cy="476.4" r="4.0"/><circle cx="403.1" cy="477.1" r="4.0"/><circle cx="403.8" cy="478.5" r="4.0"/><circle cx="403.4" cy="480.2" r="4.0"/><circle cx="404.4" cy="481.3" r="4.0"/><circle cx="404.5" cy="483.1" r="4.0"/><circle cx="406.3" cy="483.4" r="4.0"/><circle cx="406.1" cy="485.3" r="4.0"/><circle cx="407.9" cy="485.7" r="4.0"/><circle cx="408.4" cy="486.9" r="4.0"/><circle cx="407.2" cy="488.2" r="4.0"/><circle cx="406.8" cy="489.8" r="4.0"/><circle cx="406.3" cy="491.4" r="4.0"/><circle cx="411.0" cy="502.6" r="4.0"/><circle cx="412.2" cy="501.6" r="4.0"/><circle cx="413.3" cy="500.5" r="4.0"/><circle cx="413.6" cy="498.6" r="4.0"/><circle cx="415.0" cy="498.1" r="4.0"/><circle cx="415.9" cy="499.0" r="4.0"/><circle cx="416.5" cy="500.2" r="4.0"/><circle cx="417.9" cy="500.9" r="4.0"/><circle cx="418.5" cy="502.0" r="4.0"/><circle cx="418.9" cy="503.4" r="4.0"/><circle cx="419.9" cy="504.2" r="4.0"/><circle cx="420.5" cy="505.5" r="4.0"/><circle cx="422.0" cy="506.1" r="4.0"/><circle cx="422.8" cy="507.3" r="4.0"/><circle cx="422.7" cy="509.2" r="4.0"/><circle cx="424.1" cy="510.0" r="4.0"/><circle cx="424.2" cy="511.3" r="4.0"/><circle cx="424.2" cy="512.7" r="4.0"/><circle cx="425.3" cy="513.8" r="4.0"/><circle cx="426.2" cy="514.9" r="4.0"/><circle cx="425.2" cy="516.6" r="4.0"/><circle cx="425.9" cy="517.8" r="4.0"/><circle cx="426.6" cy="519.2" r="4.0"/><circle cx="427.5" cy="520.5" r="4.0"/><circle cx="427.7" cy="522.2" r="4.0"/><circle cx="429.5" cy="522.9" r="4.0"/><circle cx="430.1" cy="524.3" r="4.0"/><circle cx="431.7" cy="524.5" r="4.0"/><circle cx="432.5" cy="525.7" r="4.0"/><circle cx="433.4" cy="526.5" r="4.0"/><circle cx="434.5" cy="527.6" r="4.0"/><circle cx="435.3" cy="528.8" r="4.0"/><circle cx="435.1" cy="530.3" r="4.0"/><circle cx="435.1" cy="531.8" r="4.0"/><circle cx="435.9" cy="533.0" r="4.0"/><circle cx="439.0" cy="541.9" r="4.0"/><circle cx="439.9" cy="543.2" r="4.0"/><circle cx="441.8" cy="543.5" r="4.0"/><circle cx="441.9" cy="545.6" r="4.0"/><circle cx="443.9" cy="545.7" r="4.0"/><circle cx="444.5" cy="547.2" r="4.0"/><circle cx="446.2" cy="547.4" r="4.0"/><circle cx="446.6" cy="549.1" r="4.0"/><circle cx="448.3" cy="549.2" r="4.0"/><circle cx="448.8" cy="550.7" r="4.0"/><circle cx="449.9" cy="551.8" r="4.0"/><circle cx="451.2" cy="552.7" r="4.0"/><circle cx="382.3" cy="441.0" r="4.0"/><circle cx="336.3" cy="377.5" r="4.0"/><circle cx="342.8" cy="396.1" r="4.0"/><circle cx="333.0" cy="379.0" r="4.0"/>
</g>
<text transform="translate(381.60,347.90) scale(1.0016,1)" font-size="22" fill="#5c5fb0">30 mT</text>
<g stroke="#4d4d4d" stroke-width="1.4" fill="none">
<rect x="532" y="317.5" width="138.1" height="238"/>
<line x1="524.5" y1="317.5" x2="532" y2="317.5"/>
<line x1="524.5" y1="397.2" x2="532" y2="397.2"/>
<line x1="524.5" y1="476.5" x2="532" y2="476.5"/>
<line x1="524.5" y1="555.4" x2="532" y2="555.4"/>
<line x1="532" y1="555.5" x2="532" y2="563"/>
<line x1="617.4" y1="555.5" x2="617.4" y2="563"/>
</g>
<line x1="552.9" y1="318.2" x2="552.9" y2="555.5" stroke="#3c3c3c" stroke-width="2" stroke-dasharray="11.2 6" stroke-dashoffset="0.60"/>
<g font-size="22" fill="#1a1a1a" text-anchor="end">
<text x="514.2" y="324.8">0</text>
<text x="514.2" y="404.5"><tspan font-size="18">&#8722;</tspan>2</text>
<text x="514.2" y="483.8"><tspan font-size="18">&#8722;</tspan>4</text>
<text x="514.2" y="562.7"><tspan font-size="18">&#8722;</tspan>6</text>
</g>
<g font-size="22" fill="#1a1a1a" text-anchor="middle">
<text x="532.4" y="588.9">0</text>
<text x="617.8" y="588.9">0.5</text>
</g>
<text x="601.55" y="629.6" font-size="24" fill="#1a1a1a" text-anchor="middle"><tspan font-style="italic">T</tspan> (K)</text>
<g fill="#562485">
<circle cx="541.6" cy="317.6" r="4.0"/><circle cx="541.2" cy="319.0" r="4.0"/><circle cx="541.3" cy="320.3" r="4.0"/><circle cx="541.1" cy="321.7" r="4.0"/><circle cx="542.1" cy="323.0" r="4.0"/><circle cx="542.2" cy="324.3" r="4.0"/><circle cx="542.4" cy="325.7" r="4.0"/><circle cx="542.4" cy="327.0" r="4.0"/><circle cx="541.8" cy="328.5" r="4.0"/><circle cx="542.7" cy="329.7" r="4.0"/><circle cx="542.3" cy="331.1" r="4.0"/><circle cx="542.8" cy="332.5" r="4.0"/><circle cx="542.8" cy="333.8" r="4.0"/><circle cx="542.7" cy="335.2" r="4.0"/><circle cx="542.3" cy="336.6" r="4.0"/><circle cx="542.8" cy="337.9" r="4.0"/><circle cx="543.9" cy="339.2" r="4.0"/><circle cx="543.7" cy="340.6" r="4.0"/><circle cx="544.1" cy="341.9" r="4.0"/><circle cx="543.2" cy="343.5" r="4.0"/><circle cx="543.5" cy="344.8" r="4.0"/><circle cx="543.7" cy="346.2" r="4.0"/><circle cx="543.8" cy="347.5" r="4.0"/><circle cx="544.1" cy="348.9" r="4.0"/><circle cx="544.0" cy="350.3" r="4.0"/><circle cx="544.4" cy="351.6" r="4.0"/><circle cx="545.5" cy="352.8" r="4.0"/><circle cx="544.9" cy="354.4" r="4.0"/><circle cx="545.8" cy="355.6" r="4.0"/><circle cx="545.7" cy="357.1" r="4.0"/><circle cx="546.4" cy="358.4" r="4.0"/><circle cx="546.9" cy="359.7" r="4.0"/><circle cx="547.4" cy="361.1" r="4.0"/><circle cx="547.6" cy="362.5" r="4.0"/><circle cx="548.2" cy="363.8" r="4.0"/><circle cx="548.9" cy="365.1" r="4.0"/><circle cx="547.9" cy="366.8" r="4.0"/><circle cx="548.3" cy="368.2" r="4.0"/><circle cx="548.4" cy="369.5" r="4.0"/><circle cx="549.3" cy="370.6" r="4.0"/><circle cx="549.9" cy="371.8" r="4.0"/><circle cx="549.9" cy="373.2" r="4.0"/><circle cx="551.5" cy="374.1" r="4.0"/><circle cx="550.8" cy="375.7" r="4.0"/><circle cx="551.7" cy="376.8" r="4.0"/><circle cx="552.6" cy="377.9" r="4.0"/><circle cx="552.9" cy="379.2" r="4.0"/><circle cx="552.7" cy="380.6" r="4.0"/><circle cx="553.6" cy="381.7" r="4.0"/><circle cx="553.6" cy="383.1" r="4.0"/><circle cx="553.7" cy="384.4" r="4.0"/><circle cx="554.6" cy="385.6" r="4.0"/><circle cx="555.5" cy="386.6" r="4.0"/><circle cx="555.2" cy="388.1" r="4.0"/><circle cx="556.2" cy="389.2" r="4.0"/><circle cx="556.6" cy="390.5" r="4.0"/><circle cx="557.1" cy="391.7" r="4.0"/><circle cx="557.2" cy="393.1" r="4.0"/><circle cx="558.2" cy="394.1" r="4.0"/><circle cx="557.4" cy="395.9" r="4.0"/><circle cx="557.3" cy="397.4" r="4.0"/><circle cx="559.1" cy="397.9" r="4.0"/><circle cx="559.0" cy="399.4" r="4.0"/><circle cx="559.1" cy="400.8" r="4.0"/><circle cx="561.6" cy="401.0" r="4.0"/><circle cx="562.0" cy="402.3" r="4.0"/><circle cx="561.1" cy="404.2" r="4.0"/><circle cx="561.7" cy="405.4" r="4.0"/><circle cx="562.7" cy="406.3" r="4.0"/><circle cx="564.3" cy="406.9" r="4.0"/><circle cx="564.3" cy="408.4" r="4.0"/><circle cx="563.9" cy="410.0" r="4.0"/><circle cx="564.5" cy="411.3" r="4.0"/><circle cx="565.4" cy="412.3" r="4.0"/><circle cx="567.3" cy="412.7" r="4.0"/><circle cx="566.6" cy="414.7" r="4.0"/><circle cx="568.3" cy="415.2" r="4.0"/><circle cx="568.3" cy="416.8" r="4.0"/><circle cx="570.2" cy="417.2" r="4.0"/><circle cx="569.2" cy="419.4" r="4.0"/><circle cx="570.6" cy="420.1" r="4.0"/><circle cx="571.1" cy="421.4" r="4.0"/><circle cx="572.8" cy="421.9" r="4.0"/><circle cx="572.7" cy="423.6" r="4.0"/><circle cx="573.6" cy="424.6" r="4.0"/><circle cx="574.4" cy="425.6" r="4.0"/><circle cx="575.7" cy="426.3" r="4.0"/><circle cx="575.8" cy="427.9" r="4.0"/><circle cx="577.4" cy="428.4" r="4.0"/><circle cx="578.3" cy="429.4" r="4.0"/><circle cx="579.4" cy="430.2" r="4.0"/><circle cx="579.2" cy="432.1" r="4.0"/><circle cx="581.1" cy="432.3" r="4.0"/><circle cx="581.7" cy="433.5" r="4.0"/><circle cx="582.9" cy="434.3" r="4.0"/><circle cx="582.6" cy="436.2" r="4.0"/><circle cx="583.5" cy="437.2" r="4.0"/><circle cx="584.3" cy="438.2" r="4.0"/><circle cx="586.0" cy="438.6" r="4.0"/><circle cx="585.9" cy="440.3" r="4.0"/><circle cx="586.8" cy="441.2" r="4.0"/><circle cx="588.0" cy="442.0" r="4.0"/><circle cx="588.9" cy="442.9" r="4.0"/><circle cx="587.7" cy="445.3" r="4.0"/><circle cx="590.1" cy="445.3" r="4.0"/><circle cx="590.5" cy="446.6" r="4.0"/><circle cx="591.3" cy="447.6" r="4.0"/><circle cx="591.4" cy="449.2" r="4.0"/><circle cx="593.1" cy="449.6" r="4.0"/><circle cx="593.1" cy="451.2" r="4.0"/><circle cx="594.1" cy="452.0" r="4.0"/><circle cx="594.2" cy="453.7" r="4.0"/><circle cx="596.6" cy="453.4" r="4.0"/><circle cx="596.9" cy="454.9" r="4.0"/><circle cx="597.5" cy="456.1" r="4.0"/><circle cx="597.6" cy="457.9" r="4.0"/><circle cx="599.3" cy="458.1" r="4.0"/><circle cx="600.2" cy="459.0" r="4.0"/><circle cx="600.8" cy="460.3" r="4.0"/><circle cx="602.4" cy="460.7" r="4.0"/><circle cx="603.7" cy="461.3" r="4.0"/><circle cx="603.8" cy="463.0" r="4.0"/><circle cx="604.0" cy="464.7" r="4.0"/><circle cx="605.2" cy="465.4" r="4.0"/><circle cx="606.9" cy="465.6" r="4.0"/><circle cx="607.1" cy="467.3" r="4.0"/><circle cx="607.7" cy="468.5" r="4.0"/><circle cx="609.6" cy="468.6" r="4.0"/><circle cx="609.9" cy="470.1" r="4.0"/><circle cx="611.3" cy="470.7" r="4.0"/><circle cx="612.4" cy="471.5" r="4.0"/><circle cx="613.2" cy="472.6" r="4.0"/><circle cx="614.2" cy="473.5" r="4.0"/><circle cx="614.9" cy="474.7" r="4.0"/><circle cx="616.3" cy="475.2" r="4.0"/><circle cx="616.6" cy="476.7" r="4.0"/><circle cx="618.0" cy="477.2" r="4.0"/><circle cx="617.7" cy="479.3" r="4.0"/><circle cx="618.9" cy="480.1" r="4.0"/><circle cx="620.9" cy="480.1" r="4.0"/><circle cx="620.4" cy="482.3" r="4.0"/><circle cx="622.4" cy="482.4" r="4.0"/><circle cx="622.7" cy="483.8" r="4.0"/><circle cx="623.5" cy="484.9" r="4.0"/><circle cx="624.8" cy="485.6" r="4.0"/><circle cx="625.8" cy="486.5" r="4.0"/><circle cx="626.4" cy="487.7" r="4.0"/><circle cx="627.8" cy="488.2" r="4.0"/><circle cx="627.5" cy="490.4" r="4.0"/><circle cx="629.7" cy="490.2" r="4.0"/><circle cx="629.3" cy="492.3" r="4.0"/><circle cx="631.3" cy="492.3" r="4.0"/><circle cx="632.1" cy="493.5" r="4.0"/><circle cx="633.0" cy="494.6" r="4.0"/><circle cx="634.6" cy="495.0" r="4.0"/><circle cx="635.4" cy="496.2" r="4.0"/><circle cx="636.1" cy="497.6" r="4.0"/><circle cx="636.9" cy="498.7" r="4.0"/><circle cx="637.3" cy="500.4" r="4.0"/><circle cx="638.2" cy="501.5" r="4.0"/><circle cx="640.5" cy="501.1" r="4.0"/><circle cx="640.8" cy="502.8" r="4.0"/><circle cx="642.3" cy="503.7" r="4.0"/><circle cx="641.9" cy="505.6" r="4.0"/><circle cx="643.5" cy="506.4" r="4.0"/><circle cx="643.3" cy="508.2" r="4.0"/><circle cx="644.6" cy="509.1" r="4.0"/><circle cx="646.0" cy="509.8" r="4.0"/><circle cx="646.9" cy="510.8" r="4.0"/><circle cx="647.2" cy="512.2" r="4.0"/><circle cx="646.9" cy="514.0" r="4.0"/><circle cx="648.8" cy="514.3" r="4.0"/><circle cx="648.9" cy="515.8" r="4.0"/><circle cx="649.8" cy="516.8" r="4.0"/><circle cx="650.6" cy="517.9" r="4.0"/><circle cx="650.6" cy="519.6" r="4.0"/><circle cx="652.4" cy="519.8" r="4.0"/><circle cx="652.7" cy="521.4" r="4.0"/><circle cx="653.8" cy="522.3" r="4.0"/><circle cx="654.5" cy="523.6" r="4.0"/><circle cx="656.0" cy="524.0" r="4.0"/><circle cx="657.0" cy="525.3" r="4.0"/><circle cx="658.6" cy="525.3" r="4.0"/><circle cx="659.8" cy="526.2" r="4.0"/><circle cx="661.1" cy="526.9" r="4.0"/><circle cx="662.7" cy="527.2" r="4.0"/><circle cx="664.2" cy="527.3" r="4.0"/><circle cx="665.8" cy="526.3" r="4.0"/><circle cx="667.4" cy="526.8" r="4.0"/><circle cx="669.8" cy="537.2" r="4.0"/><circle cx="669.8" cy="539.6" r="4.0"/><circle cx="665.5" cy="527.5" r="4.0"/><circle cx="645.0" cy="505.0" r="4.0"/>
</g>
<text transform="translate(599.14,347.70) scale(0.9645,1)" font-size="22" fill="#562485">65 mT</text>
<text transform="translate(4.40,678.16) scale(0.9750,0.8909)" font-size="36" font-weight="bold" fill="#000" stroke="#000" stroke-width="1.1" stroke-linejoin="round">c</text>
<g stroke="#4d4d4d" stroke-width="1.4" fill="none">
<rect x="98.8" y="676.5" width="138.5" height="238.4"/>
<line x1="91.3" y1="676.5" x2="98.8" y2="676.5"/>
<line x1="91.3" y1="736.1" x2="98.8" y2="736.1"/>
<line x1="91.3" y1="795.6" x2="98.8" y2="795.6"/>
<line x1="91.3" y1="855.1" x2="98.8" y2="855.1"/>
<line x1="91.3" y1="914.8" x2="98.8" y2="914.8"/>
<line x1="98.8" y1="914.9" x2="98.8" y2="922.4"/>
<line x1="185.4" y1="914.9" x2="185.4" y2="922.4"/>
</g>
<line x1="140.5" y1="677.2" x2="140.5" y2="914.9" stroke="#3c3c3c" stroke-width="2" stroke-dasharray="11.2 6" stroke-dashoffset="-0.70"/>
<g font-size="22" fill="#1a1a1a" text-anchor="end">
<text x="81" y="683.8">0</text>
<text x="81" y="743.4"><tspan font-size="18">&#8722;</tspan>2</text>
<text x="81" y="802.9"><tspan font-size="18">&#8722;</tspan>4</text>
<text x="81" y="862.4"><tspan font-size="18">&#8722;</tspan>6</text>
<text x="81" y="922.1"><tspan font-size="18">&#8722;</tspan>8</text>
</g>
<g font-size="22" fill="#1a1a1a" text-anchor="middle">
<text x="99.2" y="948.3">0</text>
<text x="185.8" y="948.3">0.5</text>
</g>
<text x="168.55" y="986.6" font-size="24" fill="#1a1a1a" text-anchor="middle"><tspan font-style="italic">T</tspan> (K)</text>
<g fill="#94314f">
<circle cx="108.9" cy="676.5" r="4.0"/><circle cx="108.6" cy="677.8" r="4.0"/><circle cx="108.6" cy="679.1" r="4.0"/><circle cx="108.4" cy="680.4" r="4.0"/><circle cx="108.9" cy="681.7" r="4.0"/><circle cx="108.9" cy="683.0" r="4.0"/><circle cx="108.5" cy="684.3" r="4.0"/><circle cx="108.6" cy="685.6" r="4.0"/><circle cx="108.9" cy="686.9" r="4.0"/><circle cx="108.5" cy="688.2" r="4.0"/><circle cx="108.8" cy="689.5" r="4.0"/><circle cx="108.5" cy="690.8" r="4.0"/><circle cx="109.1" cy="692.1" r="4.0"/><circle cx="109.0" cy="693.4" r="4.0"/><circle cx="108.3" cy="694.7" r="4.0"/><circle cx="108.8" cy="696.0" r="4.0"/><circle cx="109.1" cy="697.3" r="4.0"/><circle cx="108.6" cy="698.6" r="4.0"/><circle cx="108.9" cy="699.9" r="4.0"/><circle cx="109.8" cy="701.1" r="4.0"/><circle cx="109.3" cy="702.5" r="4.0"/><circle cx="109.2" cy="703.8" r="4.0"/><circle cx="110.3" cy="705.0" r="4.0"/><circle cx="109.4" cy="706.4" r="4.0"/><circle cx="110.7" cy="707.6" r="4.0"/><circle cx="110.4" cy="709.0" r="4.0"/><circle cx="111.0" cy="710.4" r="4.0"/><circle cx="110.7" cy="711.7" r="4.0"/><circle cx="108.9" cy="713.0" r="4.0"/><circle cx="110.2" cy="714.4" r="4.0"/><circle cx="108.8" cy="715.8" r="4.0"/><circle cx="110.1" cy="717.1" r="4.0"/><circle cx="109.7" cy="718.5" r="4.0"/><circle cx="109.1" cy="719.8" r="4.0"/><circle cx="109.6" cy="721.1" r="4.0"/><circle cx="110.9" cy="722.5" r="4.0"/><circle cx="109.9" cy="723.8" r="4.0"/><circle cx="109.8" cy="725.1" r="4.0"/><circle cx="110.9" cy="726.4" r="4.0"/><circle cx="111.2" cy="727.7" r="4.0"/><circle cx="109.5" cy="729.1" r="4.0"/><circle cx="110.4" cy="730.4" r="4.0"/><circle cx="111.1" cy="731.6" r="4.0"/><circle cx="110.7" cy="733.0" r="4.0"/><circle cx="111.2" cy="734.3" r="4.0"/><circle cx="110.1" cy="735.6" r="4.0"/><circle cx="110.8" cy="736.9" r="4.0"/><circle cx="111.7" cy="738.2" r="4.0"/><circle cx="110.2" cy="739.7" r="4.0"/><circle cx="112.0" cy="740.9" r="4.0"/><circle cx="111.6" cy="742.3" r="4.0"/><circle cx="112.4" cy="743.6" r="4.0"/><circle cx="110.7" cy="745.0" r="4.0"/><circle cx="112.4" cy="746.3" r="4.0"/><circle cx="111.4" cy="747.7" r="4.0"/><circle cx="112.7" cy="748.9" r="4.0"/><circle cx="111.7" cy="750.4" r="4.0"/><circle cx="111.2" cy="751.8" r="4.0"/><circle cx="111.9" cy="753.1" r="4.0"/><circle cx="112.5" cy="754.3" r="4.0"/><circle cx="112.7" cy="755.7" r="4.0"/><circle cx="113.2" cy="757.0" r="4.0"/><circle cx="113.0" cy="758.4" r="4.0"/><circle cx="115.3" cy="759.3" r="4.0"/><circle cx="114.1" cy="761.0" r="4.0"/><circle cx="115.6" cy="761.9" r="4.0"/><circle cx="113.4" cy="764.3" r="4.0"/><circle cx="113.6" cy="765.7" r="4.0"/><circle cx="117.9" cy="765.7" r="4.0"/><circle cx="118.1" cy="767.1" r="4.0"/><circle cx="116.1" cy="769.4" r="4.0"/><circle cx="117.2" cy="770.6" r="4.0"/><circle cx="120.3" cy="770.5" r="4.0"/><circle cx="117.7" cy="773.2" r="4.0"/><circle cx="117.1" cy="775.0" r="4.0"/><circle cx="120.2" cy="774.9" r="4.0"/><circle cx="121.2" cy="775.8" r="4.0"/><circle cx="120.7" cy="777.6" r="4.0"/><circle cx="119.3" cy="779.7" r="4.0"/><circle cx="123.6" cy="779.7" r="4.0"/><circle cx="123.2" cy="781.2" r="4.0"/><circle cx="123.6" cy="782.6" r="4.0"/><circle cx="121.7" cy="784.0" r="4.0"/><circle cx="122.2" cy="785.5" r="4.0"/><circle cx="131.5" cy="789.0" r="4.0"/><circle cx="128.0" cy="794.9" r="4.0"/><circle cx="133.9" cy="787.9" r="4.0"/><circle cx="126.0" cy="791.0" r="4.0"/><circle cx="132.1" cy="805.4" r="4.0"/><circle cx="136.2" cy="801.9" r="4.0"/><circle cx="134.0" cy="808.0" r="4.0"/><circle cx="139.7" cy="812.4" r="4.0"/><circle cx="144.4" cy="817.1" r="4.0"/><circle cx="149.0" cy="819.4" r="4.0"/><circle cx="154.9" cy="815.9" r="4.0"/><circle cx="156.1" cy="824.1" r="4.0"/><circle cx="161.9" cy="796.6" r="4.0"/><circle cx="161.9" cy="810.1" r="4.0"/><circle cx="165.4" cy="814.7" r="4.0"/><circle cx="172.4" cy="812.4" r="4.0"/><circle cx="170.1" cy="819.4" r="4.0"/><circle cx="178.2" cy="820.6" r="4.0"/><circle cx="167.7" cy="824.1" r="4.0"/><circle cx="159.6" cy="826.4" r="4.0"/><circle cx="142.0" cy="815.0" r="4.0"/><circle cx="147.0" cy="822.0" r="4.0"/><circle cx="152.0" cy="824.0" r="4.0"/><circle cx="138.0" cy="808.0" r="4.0"/><circle cx="130.0" cy="800.0" r="4.0"/><circle cx="146.0" cy="813.0" r="4.0"/><circle cx="151.0" cy="817.0" r="4.0"/><circle cx="185.0" cy="827.4" r="4.0"/><circle cx="186.9" cy="830.3" r="4.0"/><circle cx="182.1" cy="832.2" r="4.0"/><circle cx="178.3" cy="833.1" r="4.0"/><circle cx="176.4" cy="841.7" r="4.0"/><circle cx="174.5" cy="846.4" r="4.0"/><circle cx="188.8" cy="845.5" r="4.0"/><circle cx="181.2" cy="853.1" r="4.0"/><circle cx="197.3" cy="852.1" r="4.0"/><circle cx="208.7" cy="844.5" r="4.0"/><circle cx="212.5" cy="846.4" r="4.0"/><circle cx="193.5" cy="862.6" r="4.0"/><circle cx="199.2" cy="863.5" r="4.0"/><circle cx="203.0" cy="868.3" r="4.0"/><circle cx="206.8" cy="868.3" r="4.0"/><circle cx="204.9" cy="873.0" r="4.0"/><circle cx="214.4" cy="861.6" r="4.0"/><circle cx="218.2" cy="878.7" r="4.0"/><circle cx="223.9" cy="880.6" r="4.0"/><circle cx="225.8" cy="876.8" r="4.0"/><circle cx="222.0" cy="882.5" r="4.0"/><circle cx="227.7" cy="886.3" r="4.0"/><circle cx="231.5" cy="889.1" r="4.0"/><circle cx="235.3" cy="892.0" r="4.0"/><circle cx="234.3" cy="893.9" r="4.0"/><circle cx="236.2" cy="884.4" r="4.0"/><circle cx="168.8" cy="814.2" r="4.0"/><circle cx="174.5" cy="814.2" r="4.0"/><circle cx="164.1" cy="817.0" r="4.0"/><circle cx="167.9" cy="819.9" r="4.0"/><circle cx="170.7" cy="826.5" r="4.0"/><circle cx="180.2" cy="820.8" r="4.0"/>
</g>
<text transform="translate(147.90,700.60) scale(0.9518,1)" font-size="22" fill="#94314f"><tspan font-style="italic">&#948;H</tspan><tspan font-size="14.3" dy="7.9">FMR,3rd</tspan></text>
<text transform="translate(147.90,730.00) scale(0.9287,1)" font-size="22" fill="#94314f">= &#8722;20 mT</text>
<g stroke="#4d4d4d" stroke-width="1.4" fill="none">
<rect x="313.9" y="676.3" width="138.4" height="238.6"/>
<line x1="306.4" y1="676.3" x2="313.9" y2="676.3"/>
<line x1="306.4" y1="735.9" x2="313.9" y2="735.9"/>
<line x1="306.4" y1="795.4" x2="313.9" y2="795.4"/>
<line x1="306.4" y1="855.1" x2="313.9" y2="855.1"/>
<line x1="306.4" y1="914.8" x2="313.9" y2="914.8"/>
<line x1="313.9" y1="914.9" x2="313.9" y2="922.4"/>
<line x1="420.7" y1="914.9" x2="420.7" y2="922.4"/>
</g>
<line x1="353.4" y1="677" x2="353.4" y2="914.9" stroke="#3c3c3c" stroke-width="2" stroke-dasharray="11.2 6" stroke-dashoffset="-0.90"/>
<g font-size="22" fill="#1a1a1a" text-anchor="end">
<text x="296.1" y="683.6">0</text>
<text x="296.1" y="743.2"><tspan font-size="18">&#8722;</tspan>1</text>
<text x="296.1" y="802.7"><tspan font-size="18">&#8722;</tspan>2</text>
<text x="296.1" y="862.4"><tspan font-size="18">&#8722;</tspan>3</text>
<text x="296.1" y="922.1"><tspan font-size="18">&#8722;</tspan>4</text>
</g>
<g font-size="22" fill="#1a1a1a" text-anchor="middle">
<text x="314.3" y="948.3">0</text>
<text x="421.1" y="948.3">0.5</text>
</g>
<text x="383.6" y="986.6" font-size="24" fill="#1a1a1a" text-anchor="middle"><tspan font-style="italic">T</tspan> (K)</text>
<g fill="#671a4e">
<circle cx="326.4" cy="676.3" r="4.0"/><circle cx="326.8" cy="677.7" r="4.0"/><circle cx="327.2" cy="679.0" r="4.0"/><circle cx="326.6" cy="680.5" r="4.0"/><circle cx="327.3" cy="681.8" r="4.0"/><circle cx="327.4" cy="683.2" r="4.0"/><circle cx="327.3" cy="684.6" r="4.0"/><circle cx="327.0" cy="686.1" r="4.0"/><circle cx="326.5" cy="687.5" r="4.0"/><circle cx="327.6" cy="688.8" r="4.0"/><circle cx="326.6" cy="690.4" r="4.0"/><circle cx="326.8" cy="691.7" r="4.0"/><circle cx="328.6" cy="692.9" r="4.0"/><circle cx="329.2" cy="694.2" r="4.0"/><circle cx="329.3" cy="695.6" r="4.0"/><circle cx="328.0" cy="697.2" r="4.0"/><circle cx="328.8" cy="698.5" r="4.0"/><circle cx="328.3" cy="700.0" r="4.0"/><circle cx="328.4" cy="701.4" r="4.0"/><circle cx="329.3" cy="702.6" r="4.0"/><circle cx="329.9" cy="703.9" r="4.0"/><circle cx="331.3" cy="705.1" r="4.0"/><circle cx="331.7" cy="706.5" r="4.0"/><circle cx="330.0" cy="708.3" r="4.0"/><circle cx="330.6" cy="709.6" r="4.0"/><circle cx="330.6" cy="711.0" r="4.0"/><circle cx="331.4" cy="712.3" r="4.0"/><circle cx="331.4" cy="713.8" r="4.0"/><circle cx="331.8" cy="715.2" r="4.0"/><circle cx="331.4" cy="716.7" r="4.0"/><circle cx="333.7" cy="717.7" r="4.0"/><circle cx="333.0" cy="719.3" r="4.0"/><circle cx="333.8" cy="720.6" r="4.0"/><circle cx="332.7" cy="722.3" r="4.0"/><circle cx="332.8" cy="723.7" r="4.0"/><circle cx="334.8" cy="724.8" r="4.0"/><circle cx="335.5" cy="726.1" r="4.0"/><circle cx="335.4" cy="727.6" r="4.0"/><circle cx="335.5" cy="729.0" r="4.0"/><circle cx="334.4" cy="730.8" r="4.0"/><circle cx="335.9" cy="731.7" r="4.0"/><circle cx="335.2" cy="733.3" r="4.0"/><circle cx="337.1" cy="734.1" r="4.0"/><circle cx="336.8" cy="735.6" r="4.0"/><circle cx="338.4" cy="736.5" r="4.0"/><circle cx="337.1" cy="738.2" r="4.0"/><circle cx="337.9" cy="739.6" r="4.0"/><circle cx="336.9" cy="741.3" r="4.0"/><circle cx="337.0" cy="742.9" r="4.0"/><circle cx="338.7" cy="744.1" r="4.0"/><circle cx="340.0" cy="744.8" r="4.0"/><circle cx="339.0" cy="747.6" r="4.0"/><circle cx="339.9" cy="748.9" r="4.0"/><circle cx="341.9" cy="749.4" r="4.0"/><circle cx="342.8" cy="750.7" r="4.0"/><circle cx="342.3" cy="752.6" r="4.0"/><circle cx="344.0" cy="753.9" r="4.0"/><circle cx="344.0" cy="755.7" r="4.0"/><circle cx="346.2" cy="764.1" r="4.0"/><circle cx="346.6" cy="765.4" r="4.0"/><circle cx="346.7" cy="767.0" r="4.0"/><circle cx="346.8" cy="768.5" r="4.0"/><circle cx="348.5" cy="769.6" r="4.0"/><circle cx="348.4" cy="771.5" r="4.0"/><circle cx="347.8" cy="773.4" r="4.0"/><circle cx="350.7" cy="782.6" r="4.0"/><circle cx="351.9" cy="783.4" r="4.0"/><circle cx="353.1" cy="784.2" r="4.0"/><circle cx="353.5" cy="786.5" r="4.0"/><circle cx="355.4" cy="786.0" r="4.0"/><circle cx="355.8" cy="787.6" r="4.0"/><circle cx="358.5" cy="786.9" r="4.0"/><circle cx="358.4" cy="789.0" r="4.0"/><circle cx="358.4" cy="791.0" r="4.0"/><circle cx="360.3" cy="791.0" r="4.0"/><circle cx="359.4" cy="793.0" r="4.0"/><circle cx="360.3" cy="794.2" r="4.0"/><circle cx="362.7" cy="794.5" r="4.0"/><circle cx="364.7" cy="795.1" r="4.0"/><circle cx="362.6" cy="797.7" r="4.0"/><circle cx="365.5" cy="797.9" r="4.0"/><circle cx="366.5" cy="799.0" r="4.0"/><circle cx="364.7" cy="801.5" r="4.0"/><circle cx="364.9" cy="802.9" r="4.0"/><circle cx="365.6" cy="804.0" r="4.0"/><circle cx="365.6" cy="805.4" r="4.0"/><circle cx="368.5" cy="805.8" r="4.0"/><circle cx="369.2" cy="806.9" r="4.0"/><circle cx="369.5" cy="808.3" r="4.0"/><circle cx="367.5" cy="810.3" r="4.0"/><circle cx="370.3" cy="810.8" r="4.0"/><circle cx="370.5" cy="812.1" r="4.0"/><circle cx="371.2" cy="813.3" r="4.0"/><circle cx="370.5" cy="814.9" r="4.0"/><circle cx="378.0" cy="815.1" r="4.0"/><circle cx="379.2" cy="815.7" r="4.0"/><circle cx="380.2" cy="816.8" r="4.0"/><circle cx="382.6" cy="815.9" r="4.0"/><circle cx="381.8" cy="817.7" r="4.0"/><circle cx="381.4" cy="819.3" r="4.0"/><circle cx="381.8" cy="820.6" r="4.0"/><circle cx="385.0" cy="820.8" r="4.0"/><circle cx="384.0" cy="822.9" r="4.0"/><circle cx="385.0" cy="823.8" r="4.0"/><circle cx="386.2" cy="824.4" r="4.0"/><circle cx="385.8" cy="826.7" r="4.0"/><circle cx="388.0" cy="826.4" r="4.0"/><circle cx="389.1" cy="827.4" r="4.0"/><circle cx="388.4" cy="829.8" r="4.0"/><circle cx="390.4" cy="830.6" r="4.0"/><circle cx="392.4" cy="830.2" r="4.0"/><circle cx="393.6" cy="831.0" r="4.0"/><circle cx="394.5" cy="832.4" r="4.0"/><circle cx="396.7" cy="831.6" r="4.0"/><circle cx="396.7" cy="834.2" r="4.0"/><circle cx="397.3" cy="835.5" r="4.0"/><circle cx="399.1" cy="835.5" r="4.0"/><circle cx="398.8" cy="837.7" r="4.0"/><circle cx="399.2" cy="838.5" r="4.0"/><circle cx="401.3" cy="839.0" r="4.0"/><circle cx="401.6" cy="840.5" r="4.0"/><circle cx="404.3" cy="840.6" r="4.0"/><circle cx="405.3" cy="841.7" r="4.0"/><circle cx="403.0" cy="845.0" r="4.0"/><circle cx="406.1" cy="844.7" r="4.0"/><circle cx="407.3" cy="845.8" r="4.0"/><circle cx="406.2" cy="848.6" r="4.0"/><circle cx="407.5" cy="849.4" r="4.0"/><circle cx="410.0" cy="849.7" r="4.0"/><circle cx="410.0" cy="851.3" r="4.0"/><circle cx="410.8" cy="852.4" r="4.0"/><circle cx="410.8" cy="854.0" r="4.0"/><circle cx="413.4" cy="861.6" r="4.0"/><circle cx="414.6" cy="862.5" r="4.0"/><circle cx="415.6" cy="863.7" r="4.0"/><circle cx="417.1" cy="864.1" r="4.0"/><circle cx="418.4" cy="874.2" r="4.0"/><circle cx="419.1" cy="875.6" r="4.0"/><circle cx="420.1" cy="876.9" r="4.0"/><circle cx="420.9" cy="878.2" r="4.0"/><circle cx="422.5" cy="879.2" r="4.0"/><circle cx="422.0" cy="880.9" r="4.0"/><circle cx="422.7" cy="882.4" r="4.0"/><circle cx="422.9" cy="884.0" r="4.0"/><circle cx="423.4" cy="885.5" r="4.0"/><circle cx="427.2" cy="876.5" r="4.0"/><circle cx="428.9" cy="876.8" r="4.0"/><circle cx="430.4" cy="876.5" r="4.0"/><circle cx="432.0" cy="876.1" r="4.0"/><circle cx="433.2" cy="875.5" r="4.0"/><circle cx="433.5" cy="877.1" r="4.0"/><circle cx="434.6" cy="878.4" r="4.0"/><circle cx="434.4" cy="880.2" r="4.0"/><circle cx="434.8" cy="881.7" r="4.0"/><circle cx="438.7" cy="892.0" r="4.0"/><circle cx="440.1" cy="890.9" r="4.0"/><circle cx="442.0" cy="891.2" r="4.0"/><circle cx="443.1" cy="890.8" r="4.0"/><circle cx="443.6" cy="892.1" r="4.0"/><circle cx="444.6" cy="893.1" r="4.0"/><circle cx="444.9" cy="894.5" r="4.0"/><circle cx="445.8" cy="895.6" r="4.0"/><circle cx="446.1" cy="896.9" r="4.0"/><circle cx="447.5" cy="897.8" r="4.0"/><circle cx="447.8" cy="899.6" r="4.0"/><circle cx="448.8" cy="900.7" r="4.0"/><circle cx="450.1" cy="901.7" r="4.0"/><circle cx="451.3" cy="903.0" r="4.0"/><circle cx="452.4" cy="904.4" r="4.0"/><circle cx="341.5" cy="740.6" r="4.0"/><circle cx="378.1" cy="803.6" r="4.0"/><circle cx="380.6" cy="803.6" r="4.0"/><circle cx="393.2" cy="823.8" r="4.0"/><circle cx="359.0" cy="789.0" r="4.0"/>
</g>
<text transform="translate(371.40,706.00) scale(0.9773,1)" font-size="22" fill="#671a4e">&#8722;50 mT</text>
<g stroke="#4d4d4d" stroke-width="1.4" fill="none">
<rect x="532.6" y="676.5" width="138" height="238.4"/>
<line x1="525.1" y1="676.5" x2="532.6" y2="676.5"/>
<line x1="525.1" y1="735.7" x2="532.6" y2="735.7"/>
<line x1="525.1" y1="795.2" x2="532.6" y2="795.2"/>
<line x1="525.1" y1="855.1" x2="532.6" y2="855.1"/>
<line x1="525.1" y1="914.8" x2="532.6" y2="914.8"/>
<line x1="532.6" y1="914.9" x2="532.6" y2="922.4"/>
<line x1="644.3" y1="914.9" x2="644.3" y2="922.4"/>
</g>
<line x1="570.6" y1="677.2" x2="570.6" y2="914.9" stroke="#3c3c3c" stroke-width="2" stroke-dasharray="11.2 6" stroke-dashoffset="-0.70"/>
<g font-size="22" fill="#1a1a1a" text-anchor="end">
<text x="514.8" y="683.8">0</text>
<text x="514.8" y="743"><tspan font-size="18">&#8722;</tspan>0.5</text>
<text x="514.8" y="802.5"><tspan font-size="18">&#8722;</tspan>1.0</text>
<text x="514.8" y="862.4"><tspan font-size="18">&#8722;</tspan>1.5</text>
<text x="514.8" y="922.1"><tspan font-size="18">&#8722;</tspan>2.0</text>
</g>
<g font-size="22" fill="#1a1a1a" text-anchor="middle">
<text x="533" y="948.3">0</text>
<text x="644.7" y="948.3">0.5</text>
</g>
<text x="602.1" y="986.6" font-size="24" fill="#1a1a1a" text-anchor="middle"><tspan font-style="italic">T</tspan> (K)</text>
<g fill="#3f1038">
<circle cx="545.2" cy="676.3" r="4.0"/><circle cx="545.2" cy="677.6" r="4.0"/><circle cx="545.2" cy="679.0" r="4.0"/><circle cx="545.3" cy="680.3" r="4.0"/><circle cx="545.3" cy="681.7" r="4.0"/><circle cx="545.1" cy="683.1" r="4.0"/><circle cx="545.5" cy="684.4" r="4.0"/><circle cx="545.2" cy="685.8" r="4.0"/><circle cx="545.9" cy="687.1" r="4.0"/><circle cx="545.6" cy="688.4" r="4.0"/><circle cx="545.6" cy="689.8" r="4.0"/><circle cx="545.9" cy="691.1" r="4.0"/><circle cx="545.3" cy="692.5" r="4.0"/><circle cx="545.8" cy="693.8" r="4.0"/><circle cx="545.3" cy="695.2" r="4.0"/><circle cx="545.1" cy="696.6" r="4.0"/><circle cx="546.1" cy="698.0" r="4.0"/><circle cx="545.3" cy="699.4" r="4.0"/><circle cx="545.5" cy="700.8" r="4.0"/><circle cx="545.8" cy="702.2" r="4.0"/><circle cx="546.8" cy="703.6" r="4.0"/><circle cx="546.3" cy="705.0" r="4.0"/><circle cx="546.1" cy="706.4" r="4.0"/><circle cx="546.7" cy="707.8" r="4.0"/><circle cx="547.0" cy="709.2" r="4.0"/><circle cx="547.0" cy="710.6" r="4.0"/><circle cx="547.2" cy="712.0" r="4.0"/><circle cx="546.5" cy="713.4" r="4.0"/><circle cx="547.3" cy="714.8" r="4.0"/><circle cx="547.3" cy="716.2" r="4.0"/><circle cx="547.1" cy="717.6" r="4.0"/><circle cx="546.8" cy="719.1" r="4.0"/><circle cx="547.9" cy="720.4" r="4.0"/><circle cx="548.5" cy="721.7" r="4.0"/><circle cx="547.2" cy="723.4" r="4.0"/><circle cx="547.6" cy="724.8" r="4.0"/><circle cx="547.8" cy="726.2" r="4.0"/><circle cx="548.5" cy="727.6" r="4.0"/><circle cx="549.2" cy="729.0" r="4.0"/><circle cx="549.5" cy="730.2" r="4.0"/><circle cx="549.8" cy="731.6" r="4.0"/><circle cx="550.0" cy="733.0" r="4.0"/><circle cx="551.3" cy="733.9" r="4.0"/><circle cx="550.5" cy="735.7" r="4.0"/><circle cx="550.9" cy="737.1" r="4.0"/><circle cx="553.2" cy="737.4" r="4.0"/><circle cx="552.1" cy="739.8" r="4.0"/><circle cx="553.7" cy="740.6" r="4.0"/><circle cx="553.4" cy="742.5" r="4.0"/><circle cx="555.3" cy="743.1" r="4.0"/><circle cx="554.8" cy="744.6" r="4.0"/><circle cx="556.2" cy="745.6" r="4.0"/><circle cx="556.1" cy="747.0" r="4.0"/><circle cx="556.9" cy="748.2" r="4.0"/><circle cx="558.6" cy="749.0" r="4.0"/><circle cx="558.7" cy="750.2" r="4.0"/><circle cx="559.0" cy="751.6" r="4.0"/><circle cx="559.2" cy="753.1" r="4.0"/><circle cx="559.9" cy="754.3" r="4.0"/><circle cx="560.1" cy="755.8" r="4.0"/><circle cx="560.4" cy="757.2" r="4.0"/><circle cx="561.7" cy="758.1" r="4.0"/><circle cx="562.6" cy="759.2" r="4.0"/><circle cx="562.8" cy="760.7" r="4.0"/><circle cx="562.5" cy="762.5" r="4.0"/><circle cx="563.5" cy="763.5" r="4.0"/><circle cx="564.4" cy="764.7" r="4.0"/><circle cx="564.7" cy="766.1" r="4.0"/><circle cx="566.6" cy="766.7" r="4.0"/><circle cx="567.5" cy="767.9" r="4.0"/><circle cx="568.1" cy="769.2" r="4.0"/><circle cx="568.6" cy="770.5" r="4.0"/><circle cx="569.4" cy="771.6" r="4.0"/><circle cx="568.8" cy="773.5" r="4.0"/><circle cx="568.9" cy="775.0" r="4.0"/><circle cx="571.0" cy="775.7" r="4.0"/><circle cx="570.3" cy="777.2" r="4.0"/><circle cx="570.2" cy="778.6" r="4.0"/><circle cx="570.9" cy="779.8" r="4.0"/><circle cx="572.1" cy="780.8" r="4.0"/><circle cx="571.7" cy="782.3" r="4.0"/><circle cx="572.5" cy="783.4" r="4.0"/><circle cx="572.9" cy="784.6" r="4.0"/><circle cx="572.9" cy="786.0" r="4.0"/><circle cx="575.6" cy="780.9" r="4.0"/><circle cx="575.3" cy="779.4" r="4.0"/><circle cx="575.4" cy="778.0" r="4.0"/><circle cx="576.0" cy="776.6" r="4.0"/><circle cx="575.5" cy="775.1" r="4.0"/><circle cx="576.6" cy="773.7" r="4.0"/><circle cx="576.8" cy="772.3" r="4.0"/><circle cx="575.9" cy="770.5" r="4.0"/><circle cx="577.5" cy="769.7" r="4.0"/><circle cx="577.9" cy="768.3" r="4.0"/><circle cx="578.7" cy="767.1" r="4.0"/><circle cx="578.6" cy="766.1" r="4.0"/><circle cx="579.1" cy="767.4" r="4.0"/><circle cx="580.6" cy="768.2" r="4.0"/><circle cx="580.6" cy="769.8" r="4.0"/><circle cx="581.3" cy="770.9" r="4.0"/><circle cx="581.4" cy="772.3" r="4.0"/><circle cx="583.2" cy="773.1" r="4.0"/><circle cx="582.3" cy="774.8" r="4.0"/><circle cx="583.8" cy="775.7" r="4.0"/><circle cx="584.3" cy="776.9" r="4.0"/><circle cx="584.1" cy="778.5" r="4.0"/><circle cx="584.7" cy="780.0" r="4.0"/><circle cx="585.5" cy="781.3" r="4.0"/><circle cx="587.2" cy="782.0" r="4.0"/><circle cx="587.5" cy="783.6" r="4.0"/><circle cx="589.1" cy="784.4" r="4.0"/><circle cx="588.2" cy="786.1" r="4.0"/><circle cx="589.5" cy="787.1" r="4.0"/><circle cx="589.6" cy="788.5" r="4.0"/><circle cx="590.5" cy="789.6" r="4.0"/><circle cx="590.5" cy="791.0" r="4.0"/><circle cx="594.2" cy="786.2" r="4.0"/><circle cx="595.4" cy="786.8" r="4.0"/><circle cx="596.8" cy="787.2" r="4.0"/><circle cx="557.7" cy="763.3" r="4.0"/><circle cx="565.3" cy="770.8" r="4.0"/><circle cx="598.1" cy="797.3" r="4.0"/><circle cx="592.0" cy="787.0" r="4.0"/><circle cx="600.6" cy="807.4" r="4.0"/><circle cx="601.8" cy="811.2" r="4.0"/><circle cx="603.1" cy="817.5" r="4.0"/><circle cx="605.6" cy="821.2" r="4.0"/><circle cx="609.4" cy="825.0" r="4.0"/><circle cx="611.3" cy="826.9" r="4.0"/><circle cx="613.2" cy="828.8" r="4.0"/><circle cx="615.0" cy="830.5" r="4.0"/><circle cx="617.0" cy="832.6" r="4.0"/><circle cx="618.2" cy="837.6" r="4.0"/><circle cx="620.0" cy="839.5" r="4.0"/><circle cx="622.0" cy="841.4" r="4.0"/><circle cx="624.0" cy="844.0" r="4.0"/><circle cx="625.8" cy="846.5" r="4.0"/><circle cx="627.7" cy="849.0" r="4.0"/><circle cx="629.6" cy="851.5" r="4.0"/><circle cx="633.4" cy="852.8" r="4.0"/><circle cx="635.9" cy="859.1" r="4.0"/><circle cx="639.7" cy="860.3" r="4.0"/><circle cx="642.2" cy="869.1" r="4.0"/><circle cx="644.0" cy="872.0" r="4.0"/><circle cx="646.0" cy="875.4" r="4.0"/><circle cx="648.5" cy="879.2" r="4.0"/><circle cx="651.0" cy="881.8" r="4.0"/><circle cx="653.5" cy="884.3" r="4.0"/><circle cx="658.6" cy="891.8" r="4.0"/><circle cx="662.3" cy="896.9" r="4.0"/><circle cx="664.2" cy="900.0" r="4.0"/><circle cx="666.1" cy="903.2" r="4.0"/><circle cx="668.6" cy="910.7" r="4.0"/>
</g>
<text transform="translate(588.50,705.90) scale(0.9493,1)" font-size="22" fill="#3f1038">&#8722;70 mT</text>
<text transform="translate(30.2,435.9) rotate(-90) scale(1.026,1)" text-anchor="middle" font-size="24" fill="#1a1a1a"><tspan font-style="italic">&#948;</tspan><tspan font-style="italic" font-family="Liberation Serif" font-size="26">f</tspan><tspan dx="0.5">/</tspan><tspan font-style="italic" font-family="Liberation Serif" font-size="26">f</tspan><tspan font-size="17" dy="7.5" dx="1">0</tspan><tspan dy="-7.5"> (&#215;10</tspan><tspan font-size="17" dy="-11"><tspan font-size="18">&#8722;</tspan>5</tspan><tspan dy="11">)</tspan></text>
<text transform="translate(30.2,794.8) rotate(-90) scale(1.026,1)" text-anchor="middle" font-size="24" fill="#1a1a1a"><tspan font-style="italic">&#948;</tspan><tspan font-style="italic" font-family="Liberation Serif" font-size="26">f</tspan><tspan dx="0.5">/</tspan><tspan font-style="italic" font-family="Liberation Serif" font-size="26">f</tspan><tspan font-size="17" dy="7.5" dx="1">0</tspan><tspan dy="-7.5"> (&#215;10</tspan><tspan font-size="17" dy="-11"><tspan font-size="18">&#8722;</tspan>5</tspan><tspan dy="11">)</tspan></text>
</svg>
</body></html>
